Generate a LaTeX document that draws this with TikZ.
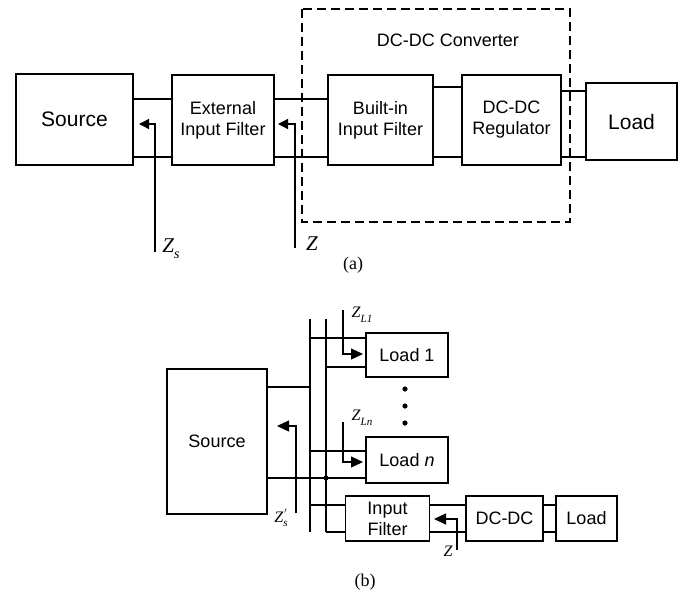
\documentclass[tikz,border=0pt]{standalone}
\usepackage{fontspec}
\setmainfont{Liberation Sans}
\newfontfamily\tnr{Liberation Serif}
\usetikzlibrary{arrows.meta}

% italic impedance label: size, subscript size, subscript
\newcommand{\imp}[3]{{\tnr\itshape\fontsize{#1}{#1}\selectfont Z\raisebox{-0.3em}{\fontsize{#2}{#2}\selectfont #3}}}
\newcommand{\impprime}[2]{{\tnr\itshape\fontsize{#1}{#1}\selectfont Z\rlap{\raisebox{0.3em}{\fontsize{#2}{#2}\selectfont\hspace{1pt}$'$}}\raisebox{-0.3em}{\fontsize{#2}{#2}\selectfont s}}}

\begin{document}
\begin{tikzpicture}[x=1pt,y=-1pt,
  box/.style={draw,line width=1.2pt,inner sep=0pt,align=center,
              font=\fontsize{18}{21}\selectfont},
  bigbox/.style={box,font=\fontsize{21}{24}\selectfont},
  wire/.style={line width=1.2pt},
  probe/.style={line width=1.2pt,-{Triangle[length=10pt,width=10pt]}},
  probeb/.style={line width=1.2pt,-{Triangle[length=12pt,width=11pt]}},
  figcaption/.style={font=\tnr\fontsize{18}{20}\selectfont}]
\useasboundingbox (0,0) rectangle (682,590);

% ---------------- (a) ----------------
\node[bigbox,minimum width=117pt,minimum height=91pt] (srcA) at (74.5,119.5) {Source};
\node[box,minimum width=102pt,minimum height=90pt] (eif) at (223,120) {External\\Input Filter};
\node[box,minimum width=105pt,minimum height=90pt] (bif) at (380.5,120) {Built-in\\Input Filter};
\node[box,minimum width=99pt,minimum height=90pt] (reg) at (511.5,120) {DC-DC\\Regulator};
\node[bigbox,minimum width=91pt,minimum height=77pt] (loadA) at (631.5,121.5) {Load};

\draw[line width=1.5pt,dash pattern=on 9pt off 5pt] (302,9) rectangle (570,222);
\node[font=\fontsize{18}{21}\selectfont] (conv) at (448,40) {DC-DC Converter};

\coordinate (a1) at (0,99);  \coordinate (a2) at (0,157);
\coordinate (a3) at (0,87);  \coordinate (a4) at (0,91);
\draw[wire] (srcA.east |- a1) -- (eif.west |- a1);
\draw[wire] (srcA.east |- a2) -- (eif.west |- a2);
\draw[wire] (eif.east |- a1) -- (bif.west |- a1);
\draw[wire] (eif.east |- a2) -- (bif.west |- a2);
\draw[wire] (bif.east |- a3) -- (reg.west |- a3);
\draw[wire] (bif.east |- a2) -- (reg.west |- a2);
\draw[wire] (reg.east |- a4) -- (loadA.west |- a4);
\draw[wire] (reg.east |- a2) -- (loadA.west |- a2);

% source-side and converter-side impedance probes
\coordinate (zsA0) at (155,252); \coordinate (zsA1) at (155,124); \coordinate (zsA2) at (139,124);
\draw[probe] (zsA0) -- (zsA1) -- (zsA2);
\node (lzs) at (171,249) {\imp{21}{14}{s}};
\coordinate (zA0) at (295,248); \coordinate (zA1) at (295,124); \coordinate (zA2) at (278,124);
\draw[probe] (zA0) -- (zA1) -- (zA2);
\node (lz) at (312,247) {\imp{21}{14}{}};

\node[figcaption] (capa) at (353,265) {(a)};

% ---------------- (b) ----------------
\node[box,minimum width=100pt,minimum height=145pt] (srcB) at (217,441.5) {Source};
\node[box,minimum width=82pt,minimum height=44pt] (load1) at (407,355) {Load 1};
\node[box,minimum width=82pt,minimum height=46pt] (loadn) at (407,460) {Load \textit{n}};
\node[box,minimum width=84pt,minimum height=45pt] (filt) at (387.5,518.5) {Input\\Filter};
\node[box,minimum width=77pt,minimum height=45pt] (dcdc) at (504.5,518.5) {DC-DC};
\node[box,minimum width=61pt,minimum height=45pt] (loadB) at (586.5,518.5) {Load};

% bus bars
\coordinate (b1t) at (310,319); \coordinate (b1b) at (310,532);
\coordinate (b2t) at (326,319); \coordinate (b2b) at (326,532);
\draw[wire] (b1t) -- (b1b);
\draw[wire] (b2t) -- (b2b);

\coordinate (y1) at (0,387); \coordinate (y2) at (0,478);
\coordinate (y3) at (0,338); \coordinate (y4) at (0,367);
\coordinate (y5) at (0,451); \coordinate (y6) at (0,505);
\coordinate (y7) at (0,532);
\draw[wire] (srcB.east |- y1) -- (b1t |- y1);
\draw[wire] (srcB.east |- y2) -- (loadn.west |- y2);
\fill (b2t |- y2) circle (2.5pt);
\draw[wire] (b1t |- y3) -- (load1.west |- y3);
\draw[wire] (b2t |- y4) -- (load1.west |- y4);
\draw[wire] (b1t |- y5) -- (loadn.west |- y5);
\draw[wire] (b1t |- y6) -- (filt.west |- y6);
\draw[wire] (b2t |- y7) -- (filt.west |- y7);
\draw[wire] (filt.east |- y6) -- (dcdc.west |- y6);
\draw[wire] (filt.east |- y7) -- (dcdc.west |- y7);
\draw[wire] (dcdc.east |- y6) -- (loadB.west |- y6);
\draw[wire] (dcdc.east |- y7) -- (loadB.west |- y7);

% ellipsis between the loads
\fill (405,389) circle (2.6pt);
\fill (405,406) circle (2.6pt);
\fill (405,423) circle (2.6pt);

% impedance probes
\coordinate (l10) at (343,310); \coordinate (l11) at (343,354); \coordinate (l12) at (363,354);
\draw[probeb] (l10) -- (l11) -- (l12);
\node (lzl1) at (362,315) {\imp{16}{11}{L1}};
\coordinate (ln0) at (343,422); \coordinate (ln1) at (343,462); \coordinate (ln2) at (363,462);
\draw[probeb] (ln0) -- (ln1) -- (ln2);
\node (lzln) at (362,418) {\imp{16}{11}{Ln}};
\coordinate (zp0) at (296,513); \coordinate (zp1) at (296,426); \coordinate (zp2) at (277,426);
\draw[probeb] (zp0) -- (zp1) -- (zp2);
\node (lzsp) at (281,518) {\impprime{16}{11}};
\coordinate (zb0) at (457,550); \coordinate (zb1) at (457,519); \coordinate (zb2) at (434,519);
\draw[probeb] (zb0) -- (zb1) -- (zb2);
\node (lzb) at (448,554) {\imp{16}{11}{}};

\node[figcaption] (capb) at (365,582) {(b)};
\end{tikzpicture}
\end{document}
